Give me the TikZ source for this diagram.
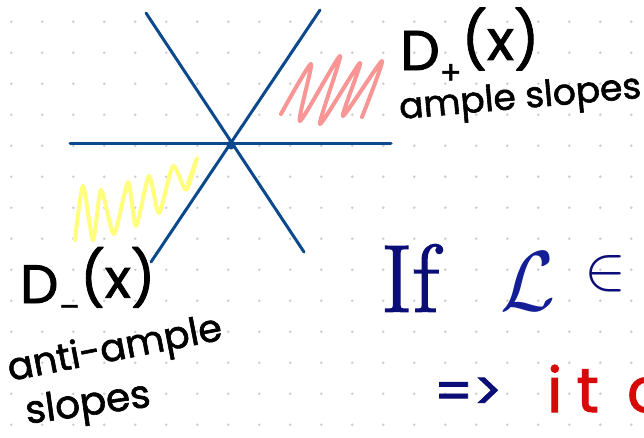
\documentclass[tikz,border=0pt]{standalone}
\usepackage{fontspec}
\setmainfont[FakeBold=1.6]{Poppins}
\newfontfamily\lmrfont[FakeBold=1.5]{Latin Modern Roman}
\begin{document}
\begin{tikzpicture}[x=1pt,y=-1pt,
  axis/.style={line width=3pt,draw=lineblue,line cap=round},
  scrib/.style={line width=4pt,line cap=round,line join=round},
  hand/.style={inner sep=0pt,text=black},
]
\definecolor{lineblue}{RGB}{12,72,140}
\definecolor{dotgray}{RGB}{205,205,205}
\definecolor{pinkscr}{RGB}{248,150,150}
\definecolor{yellowscr}{RGB}{255,255,125}
\definecolor{navy}{RGB}{12,14,120}
\definecolor{navyL}{RGB}{20,30,150}
\definecolor{redtxt}{RGB}{215,10,10}
\useasboundingbox (0,0) rectangle (644,437);
\clip (0,0) rectangle (644,437);
\fill[white] (0,0) rectangle (644,437);
% dot grid
\foreach \i in {0,...,20}{
  \foreach \j in {0,...,13}{
    \fill[dotgray] ({11.3+31*\i},{21.7+31*\j}) circle (1.4pt);
  }
}
% scribbles
\draw[scrib,pinkscr] plot[smooth,tension=0.4] coordinates {(281,114) (311,64) (300,121) (340,56) (320,124) (360,63) (343,116) (382,61) (362,117)};
\draw[scrib,yellowscr] plot[smooth,tension=0.4] coordinates {(75,240) (83,186) (93,240) (101,190) (114,234) (128,182) (136,226) (149,176) (159,213) (173,166) (186,190) (197,158) (188,183)};
% axes
\coordinate (c) at (231,145);
\coordinate (h1) at (70,143);
\coordinate (h2) at (391,143);
\coordinate (a1) at (146,13);
\coordinate (a2) at (304,252);
\coordinate (b1) at (320,10);
\coordinate (b2) at (151,262);
\draw[axis] (h1) -- (h2);
\draw[axis] (a1) -- (a2);
\draw[axis] (b1) -- (b2);
\fill[lineblue] (c) circle (4.5pt);
% labels
\node[hand,anchor=base west,font=\fontsize{56}{58}\selectfont] (dplus) at (400,70) {D\raisebox{-0.25em}{\fontsize{32}{34}\selectfont +}\raisebox{0.18em}{(x)}};
\node[hand,anchor=base west,rotate=5,font=\fontsize{36}{40}\selectfont] (amp) at (400,119) {ample slopes};
\node[hand,anchor=base west,font=\fontsize{54}{56}\selectfont] (dminus) at (20,303) {D\raisebox{-0.02em}{\fontsize{30}{32}\selectfont \_}\raisebox{0.1em}{(x)}};
\node[hand,anchor=base west,rotate=11,font=\fontsize{38}{40}\selectfont] (anti) at (10,381) {anti-ample};
\node[hand,anchor=base west,rotate=8,font=\fontsize{39}{40}\selectfont] (slp) at (27,424) {slopes};
\node[hand,text=navy] (if) at (410,278) {\lmrfont\fontsize{96}{98}\selectfont If};
\node[hand,text=navyL] (ell) at (528,281) {\scalebox{8}[8.5]{$\mathcal{L}$}};
\node[hand,text=navy] (in) at (605,274) {\scalebox{6.3}{$\in$}};
\node[hand,text=navy,anchor=base west,font=\fontsize{54}{56}\selectfont] (impl) at (434,410) {=>};
\node[hand,text=redtxt,anchor=base west,font=\fontsize{62}{66}\selectfont] (itc) at (547,412) {i\hspace{14pt}t\hspace{28pt}c};
\end{tikzpicture}
\end{document}
